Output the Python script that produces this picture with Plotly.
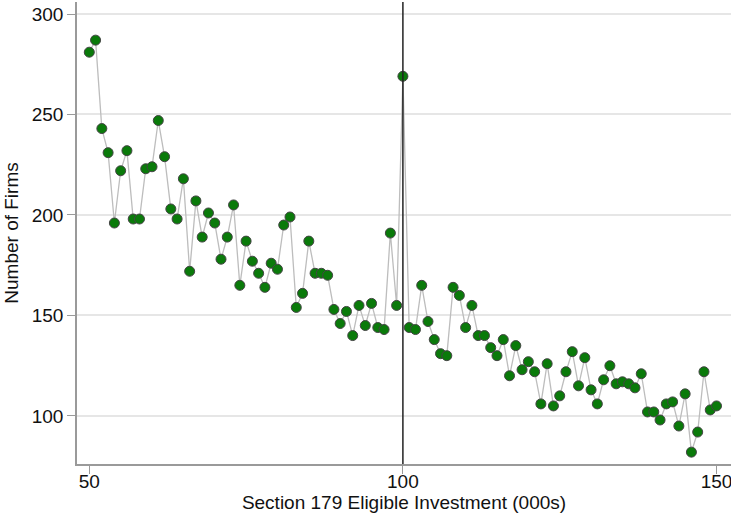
import plotly.graph_objects as go

investment = list(range(50, 151))
firms = [281, 287, 243, 231, 196, 222, 232, 198, 198, 223,
         224, 247, 229, 203, 198, 218, 172, 207, 189, 201,
         196, 178, 189, 205, 165, 187, 177, 171, 164, 176,
         173, 195, 199, 154, 161, 187, 171, 171, 170, 153,
         146, 152, 140, 155, 145, 156, 144, 143, 191, 155,
         269, 144, 143, 165, 147, 138, 131, 130, 164, 160,
         144, 155, 140, 140, 134, 130, 138, 120, 135, 123,
         127, 122, 106, 126, 105, 110, 122, 132, 115, 129,
         113, 106, 118, 125, 116, 117, 116, 114, 121, 102,
         102, 98, 106, 107, 95, 111, 82, 92, 122, 103, 105]
x_ticks = [50, 100, 150]
y_ticks = [100, 150, 200, 250, 300]
threshold = 100

FONT = "Liberation Sans, Arial, sans-serif"

fig = go.Figure()
fig.add_trace(go.Scatter(
    x=investment, y=firms, mode="lines+markers",
    line=dict(color="#bdbdbd", width=1.3),
    marker=dict(size=10, color="#0a7a0a", line=dict(color="#444444", width=1)),
    showlegend=False, hoverinfo="x+y", cliponaxis=False))

fig.add_shape(type="line", x0=threshold, x1=threshold, xref="x", yref="paper",
              y0=0, y1=1, line=dict(color="#222222", width=1.5))

fig.update_layout(
    width=731, height=515,
    margin=dict(l=77, r=0, t=2, b=51),
    paper_bgcolor="white", plot_bgcolor="white",
    font=dict(family=FONT, size=19, color="#111111"),
    xaxis=dict(range=[48.04, 152.31], tickvals=x_ticks, showgrid=False, zeroline=False,
               showline=True, linecolor="#9a9a9a", linewidth=1.5,
               ticks="outside", ticklen=8, tickcolor="#9a9a9a", automargin=False,
               ticklabeloverflow="allow", ticklabelstandoff=-9,
               title=dict(text="Section 179 Eligible Investment (000s)", standoff=1,
                          font=dict(family=FONT, size=19, color="#111111"))),
    yaxis=dict(range=[76.1, 305.97], tickvals=y_ticks, showgrid=True, gridcolor="#e6e6e6",
               gridwidth=1.5, zeroline=False,
               showline=True, linecolor="#9a9a9a", linewidth=1.5,
               ticks="outside", ticklen=8, tickcolor="#9a9a9a", automargin=False,
               title=dict(text="Number of Firms", standoff=8,
                          font=dict(family=FONT, size=19, color="#111111"))),
)

fig.write_html("out.html", post_script="document.body.style.margin='0px';",
               config={"displayModeBar": False})
